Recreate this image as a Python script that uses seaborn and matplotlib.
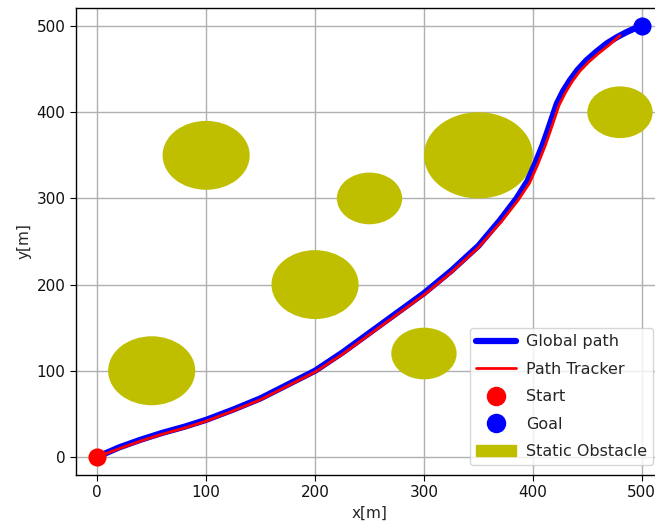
import matplotlib
matplotlib.use("Agg")
import matplotlib.pyplot as plt
from matplotlib.patches import Circle, Patch
from matplotlib.lines import Line2D
import seaborn as sns
import pandas as pd

# --- data ---
global_x = [0, 20, 40, 60, 80, 100, 125, 150, 175, 200, 225, 250, 275, 300, 325, 350,
            370, 385, 395, 402, 409, 414, 418, 422, 428, 434, 441, 449, 458, 468, 477,
            486, 493, 500]
global_y = [0, 11, 20, 28, 35, 43, 55, 68, 84, 100, 121, 144, 167, 190, 216, 245,
            275, 300, 320, 340, 362, 380, 395, 410, 425, 437, 449, 460, 470, 480, 487,
            493, 497, 500]

tracker_x = [0, 20, 40, 60, 80, 100, 125, 150, 175, 200, 225, 250, 275, 300, 325, 350,
             371, 386.5, 397, 404, 411, 416, 420, 424, 430, 436, 443, 451, 460, 470, 480]
tracker_y = [0, 9.5, 18.5, 26.5, 33.5, 41.5, 53.5, 66.5, 82.5, 98.5, 119, 142, 165, 188,
             214, 243, 273, 298, 318, 338, 360, 378, 393, 408, 423, 435.5, 447.5, 458,
             468, 478, 489]

start = (0, 0)
goal = (500, 500)

obstacle_x = [50, 100, 200, 250, 300, 350, 480]
obstacle_y = [100, 350, 200, 300, 120, 350, 400]
obstacle_r = [40, 40, 40, 30, 30, 50, 30]

legend_labels = ["Global path", "Path Tracker", "Start", "Goal", "Static Obstacle"]

# --- plot ---
sns.set_style("ticks")
plt.rcParams["font.family"] = ["DejaVu Sans"]
plt.rcParams["font.size"] = 11

fig = plt.figure(figsize=(6.55, 5.32), dpi=100)
ax = fig.add_axes([76 / 655, 1 - 475 / 532, (663 - 76) / 655, (475 - 8) / 532])

obs_df = pd.DataFrame({"x": obstacle_x, "y": obstacle_y, "r": obstacle_r})
for _, row in obs_df.iterrows():
    ax.add_patch(Circle((row["x"], row["y"]), row["r"], color="y", zorder=2, lw=0))

gdf = pd.DataFrame({"x": global_x, "y": global_y})
tdf = pd.DataFrame({"x": tracker_x, "y": tracker_y})
sns.lineplot(data=gdf, x="x", y="y", color="b", lw=4.5, sort=False, estimator=None,
             ax=ax, zorder=3, solid_joinstyle="round", solid_capstyle="round")
sns.lineplot(data=tdf, x="x", y="y", color="r", lw=2, sort=False, estimator=None,
             ax=ax, zorder=4, solid_joinstyle="round")
sns.scatterplot(x=[start[0]], y=[start[1]], color="r", s=170, linewidth=0, ax=ax, zorder=5)
sns.scatterplot(x=[goal[0]], y=[goal[1]], color="b", s=170, linewidth=0, ax=ax, zorder=5)

ax.set_xlim(-19.5, 519.5)
ax.set_ylim(-21, 521)
ax.set_xticks([0, 100, 200, 300, 400, 500])
ax.set_yticks([0, 100, 200, 300, 400, 500])
ax.grid(True, color="#b0b0b0", lw=1.0)
ax.set_axisbelow(True)
ax.set_xlabel("x[m]", fontsize=11)
ax.set_ylabel("y[m]", fontsize=11)
ax.tick_params(direction="out", length=4, color="black", labelcolor="#111111", labelsize=11)
for s in ax.spines.values():
    s.set_color("black")
    s.set_linewidth(1.0)

handles = [
    Line2D([], [], color="b", lw=4.5),
    Line2D([], [], color="r", lw=2),
    Line2D([], [], color="r", marker="o", ls="none", markersize=13),
    Line2D([], [], color="b", marker="o", ls="none", markersize=13),
    Patch(color="y"),
]
ax.legend(handles, legend_labels, loc="lower right", handlelength=2.5, framealpha=0.8,
          fontsize=11.5, borderaxespad=0.6, labelspacing=0.78, handletextpad=0.6)

fig.savefig("out.png", dpi=100)
